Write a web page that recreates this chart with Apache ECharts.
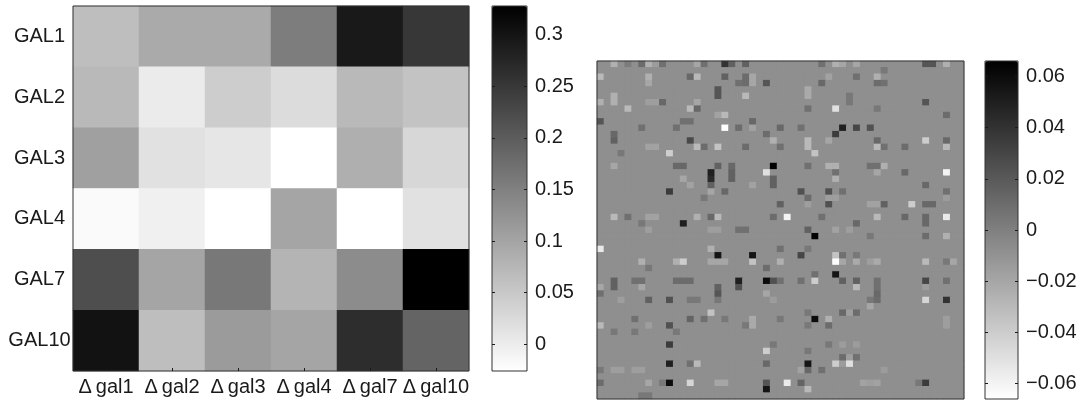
<!DOCTYPE html>
<html><head><meta charset="utf-8">
<style>html,body{margin:0;padding:0;background:#fff}#c{width:1092px;height:404px}</style>
<script src="https://cdn.jsdelivr.net/npm/echarts@6/dist/echarts.min.js"></script>
</head><body><div id="c"></div>
<script>
const rowLabels = ['GAL1','GAL2','GAL3','GAL4','GAL7','GAL10'];
const colLabels = ['\u0394\u2009gal1','\u0394\u2009gal2','\u0394\u2009gal3','\u0394\u2009gal4','\u0394\u2009gal7','\u0394\u2009gal10'];
const gal1  = [0.064,0.092,0.092,0.154,0.293,0.252];
const gal2  = [0.071,0.002,0.043,0.023,0.071,0.057];
const gal3  = [0.106,0.016,0.009,-0.026,0.085,0.030];
const gal4  = [-0.019,-0.005,-0.026,0.099,-0.026,0.016];
const gal7  = [0.220,0.099,0.161,0.078,0.134,0.328];
const gal10 = [0.303,0.064,0.113,0.099,0.266,0.189];
const leftRange = [-0.026,0.328];
const leftTicks = [0,0.05,0.1,0.15,0.2,0.25,0.3];
const rightRange = [-0.066,0.066];
const rightTicks = [-0.06,-0.04,-0.02,0,0.02,0.04,0.06];
const gridSize = 53;
const backgroundValue = -0.008;
// [col,row,value] cells; unread cells stay at backgroundValue
const readCells = [
[2,0,-.025],[4,0,.002],[6,0,.01],[7,0,-.025],[8,0,-.015],[9,0,.008],[14,0,-.02],[15,0,.008],[18,0,.04],[19,0,.016],[21,0,.016],
[0,2,-.03],[7,2,-.025],[7,3,-.02],[13,2,.012],[14,2,-.03],[18,2,.016],[21,2,.01],[21,3,.01],[20,3,.008],[22,2,-.02],[22,3,-.02],[24,3,.022],
[17,4,.022],[17,5,.022],[21,5,-.03],[0,6,-.025],[2,6,-.025],[2,5,-.025],[9,6,.012],[14,6,-.02],[7,6,-.016],[8,6,-.016],[4,7,-.03],[13,7,-.03],[14,7,.012],
[0,9,.022],[12,9,.008],[13,9,.008],[18,8,-.03],[17,8,-.018],[22,9,.012],[18,10,-.065],[6,10,.008],[11,10,.008],[20,10,.01],[22,10,-.018],
[2,11,.012],[2,12,.016],[13,12,.028],[24,11,.01],[25,12,-.025],[10,14,-.04],[7,13,-.018],[8,13,-.018],[14,13,-.03],[17,13,-.035],[15,13,.01],[21,13,.01],[3,14,.004],
[25,16,.065],[24,17,-.05],[16,17,.05],[17,16,.016],[11,16,.012],[12,16,.012],[2,16,-.02],[19,16,.012],
[47,0,.022],[48,0,.022],[50,0,-.025],[34,0,-.025],[35,0,-.02],[37,0,-.02],[32,0,.008],[33,2,-.018],[37,2,.008],[40,2,-.025],[41,1,.004],[32,3,.012],[40,3,.01],[41,3,.008],
[30,4,-.022],[30,5,-.022],[47,6,.022],[36,5,.004],[36,6,.004],[34,7,-.05],[30,7,.008],[40,7,.004],[50,8,.01],[35,10,.05],[37,10,.03],[39,10,.024],[26,10,.012],[29,10,.008],
[34,11,.035],[30,12,-.03],[30,13,-.03],[33,12,-.02],[40,12,.012],[47,12,-.04],[50,12,.012],[40,13,-.03],[41,13,.008],[44,13,.01],[50,13,-.03],[26,13,.008],[31,14,-.035],
[30,16,.008],[33,16,-.025],[34,16,-.025],[41,16,-.025],[39,16,.008],[40,16,.008],[34,17,.008],[50,17,-.06],[44,17,.012],[40,17,-.02],
[16,18,.045],[16,19,.016],[19,17,.016],[19,18,.016],[10,20,.035],[16,20,-.02],[18,20,.012],[15,21,.004],[13,19,-.018],[12,18,-.02],[25,18,.016],[25,19,.016],[22,19,-.018],
[2,24,-.03],[4,24,.008],[7,24,-.018],[8,24,-.018],[14,24,-.025],[16,24,.012],[17,24,-.03],[25,24,.01],[6,25,.004],[12,25,.05],[20,26,.008],[21,26,.008],[7,26,-.016],[16,26,-.016],[17,26,-.016],
[0,29,-.055],[16,29,-.025],[17,30,.055],[22,30,.055],[6,31,-.025],[11,31,-.025],[12,31,-.04],[16,31,-.02],[17,31,-.02],[18,31,-.02],[22,31,-.035],[7,32,.004],[24,32,.01],
[2,34,.016],[2,35,.016],[20,34,.05],[20,35,.024],[24,34,.06],[12,34,.01],[13,34,.01],[11,34,.01],[5,34,.008],[6,34,.008],[0,35,-.02],[6,35,-.02],[17,35,.016],[17,36,.022],
[34,18,-.025],[29,20,.024],[33,20,.024],[35,20,.008],[30,21,.01],[34,21,-.016],[33,21,-.016],[47,19,.012],[50,20,.008],[26,22,.016],[30,22,-.016],[33,22,.024],[39,22,-.018],[40,22,-.018],[41,22,.016],[45,22,-.04],[47,22,.012],[48,22,.012],[50,21,-.015],
[27,24,-.06],[32,24,.008],[40,24,-.03],[44,24,.012],[47,24,.012],[47,25,.012],[50,24,-.055],[37,25,.012],[30,26,.016],[34,26,-.018],[36,26,-.016],[31,27,.065],[47,27,.01],[50,27,-.025],[39,27,.004],
[26,29,.008],[30,29,.004],[29,30,.03],[34,30,-.035],[35,30,.008],[37,30,.004],[34,31,-.065],[35,31,-.02],[37,31,-.022],[40,31,-.022],[39,31,-.016],[26,31,-.025],[47,31,-.03],[50,31,.004],[51,31,-.02],
[34,33,.055],[31,33,.008],[31,34,-.04],[29,34,.008],[25,34,.024],[26,34,.008],[35,34,.016],[37,34,.016],[40,34,.008],[40,35,.008],[47,34,.03],[50,34,.008],[37,35,-.03],[47,35,-.015],
[0,36,.008],[7,37,.016],[10,37,.024],[17,37,.004],[14,37,.004],[13,37,.004],[24,36,-.02],[25,37,-.015],[3,37,-.016],[16,39,-.035],[22,40,-.022],[22,41,-.022],[5,40,.008],[13,40,.014],[15,40,.008],[18,40,.004],
[0,41,-.03],[10,41,.024],[21,41,.004],[7,41,-.016],[2,42,.004],[5,42,.004],[11,42,.004],[10,44,.035],[24,45,-.04],[25,44,.004],[10,47,.05],[13,47,.008],[14,47,-.03],[24,47,.012],
[2,48,-.016],[3,48,-.016],[5,48,-.016],[6,48,-.016],[0,48,.004],[0,50,.01],[7,50,-.02],[10,50,.06],[9,50,.004],[13,50,-.045],[17,50,-.02],[18,50,-.02],[24,50,.022],[24,51,.055],[7,52,.004],[6,52,.004],
[40,36,.012],[47,37,-.045],[50,37,.04],[39,38,-.02],[40,37,.01],[39,37,.004],[30,39,.004],[31,40,.06],[33,40,-.025],[35,39,.012],[36,39,-.016],[37,39,.01],[33,41,.01],[30,41,.004],[26,40,.004],[50,40,-.016],[50,41,-.016],
[33,44,.004],[35,44,-.015],[37,44,-.015],[30,45,.004],[35,46,.01],[36,46,-.016],[37,46,.008],[30,47,.055],[34,47,-.04],[35,47,-.015],[36,47,-.05],[30,48,.012],[29,48,-.018],[32,48,.008],[41,48,-.015],
[27,50,-.055],[29,50,.014],[47,50,.035],[46,50,.004],[38,50,-.018],[40,50,-.018],[39,50,-.016],[30,51,-.03]
];

const leftRows = [gal1,gal2,gal3,gal4,gal7,gal10];
const leftData = [];
leftRows.forEach((r,y)=>r.forEach((v,x)=>leftData.push([x,y,v])));
const cellMap = new Map(readCells.map(c=>[c[0]+','+c[1],c[2]]));
const rightData = [];
const idx = Array.from({length:gridSize},(_,i)=>i);
idx.forEach(y=>idx.forEach(x=>{
  const k = x+','+y;
  rightData.push([x,y,cellMap.has(k)?cellMap.get(k):backgroundValue]);
}));
const FONT = '"Liberation Sans", Arial, sans-serif';
const FS = 20;
const INK = '#1a1a1a';
const fmt = v => String(v).replace('-','\u2212');
function barAxes(gridIndex,range,ticks){
  const common = {type:'value',gridIndex,min:range[0],max:range[1],z:6,splitLine:{show:false},axisLine:{show:false}};
  return [
    Object.assign({},common,{position:'left',axisLabel:{show:false},
      axisTick:{show:true,inside:true,length:3,customValues:ticks,lineStyle:{color:INK}}}),
    Object.assign({},common,{position:'right',
      axisTick:{show:true,inside:true,length:3,customValues:ticks,lineStyle:{color:INK}},
      axisLabel:{show:true,customValues:ticks,formatter:fmt,margin:8,padding:[3,0,0,0],fontFamily:FONT,fontSize:FS,color:INK}})
  ];
}
const border = {show:true,z:5,borderColor:'#333',borderWidth:1,backgroundColor:'transparent'};
const option = {
  animation:false,
  backgroundColor:'#fff',
  grid:[
    Object.assign({left:73,top:6,width:396,height:365},border),
    Object.assign({left:597,top:61,width:367,height:338},border),
    Object.assign({left:492,top:6,width:35,height:365},border),
    Object.assign({left:985,top:61,width:33,height:338},border),
    {show:true,z:0,left:597,top:61,width:367,height:338,borderWidth:0,backgroundColor:'#8f8f8f'}
  ],
  xAxis:[
    {type:'category',gridIndex:0,data:colLabels,z:6,splitLine:{show:false},splitArea:{show:false},
     axisLine:{show:false},axisTick:{show:true,inside:true,alignWithLabel:true,length:3,lineStyle:{color:INK}},
     axisLabel:{interval:0,margin:6,fontFamily:FONT,fontSize:FS,color:INK}},
    {type:'category',gridIndex:1,data:idx,show:false},
    {type:'value',gridIndex:2,min:0,max:1,show:false},
    {type:'value',gridIndex:3,min:0,max:1,show:false},
    {type:'value',gridIndex:4,min:0,max:1,show:false}
  ],
  yAxis:[
    {type:'category',gridIndex:0,data:rowLabels,inverse:true,z:6,splitLine:{show:false},splitArea:{show:false},
     axisLine:{show:false},axisTick:{show:false},
     axisLabel:{interval:0,margin:33.5,align:'center',padding:[0,0,2,0],fontFamily:FONT,fontSize:FS,color:INK}},
    {type:'category',gridIndex:1,data:idx,inverse:true,show:false},
    ...barAxes(2,leftRange,leftTicks),
    ...barAxes(3,rightRange,rightTicks),
    {type:'value',gridIndex:4,min:0,max:1,show:false}
  ],
  visualMap:[
    {type:'continuous',seriesIndex:0,min:leftRange[0],max:leftRange[1],left:492,top:6,itemWidth:35,itemHeight:365,padding:0,
     calculable:false,inRange:{color:['#ffffff','#000000']},text:null,z:1},
    {type:'continuous',seriesIndex:1,min:rightRange[0],max:rightRange[1],left:985,top:61,itemWidth:33,itemHeight:338,padding:0,
     calculable:false,inRange:{color:['#ffffff','#000000']},text:null,z:1}
  ],
  series:[
    {type:'heatmap',xAxisIndex:0,yAxisIndex:0,data:leftData,z:1,progressive:0,itemStyle:{borderWidth:0},emphasis:{disabled:true}},
    {type:'heatmap',xAxisIndex:1,yAxisIndex:1,data:rightData,z:1,progressive:0,itemStyle:{borderWidth:0},emphasis:{disabled:true}}
  ]
};
echarts.init(document.getElementById('c'),null,{renderer:'canvas'}).setOption(option);
</script></body></html>
